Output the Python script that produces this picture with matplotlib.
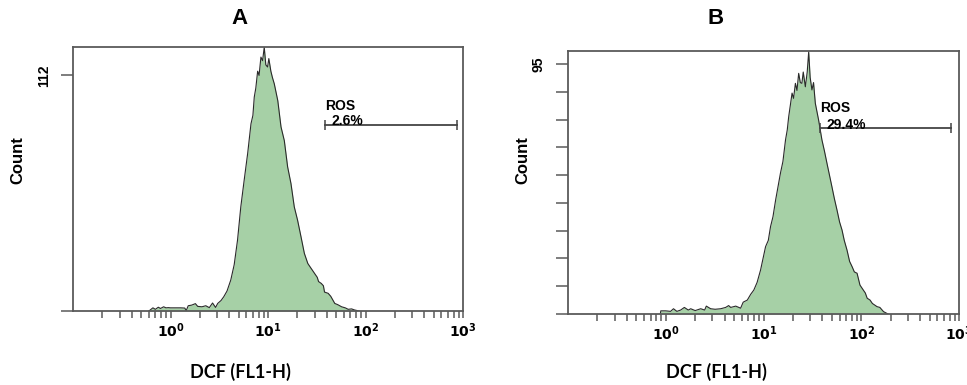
import numpy as np
import matplotlib.pyplot as plt
from matplotlib.ticker import FixedLocator, NullFormatter, FixedFormatter, LogLocator

# DCF fluorescence (FL1-H) channel values and counts
dcf_a = [0.60, 0.62, 0.66, 0.70, 0.75, 0.79, 0.85, 0.90, 0.95, 1.0, 1.1, 1.27, 1.40, 1.45, 1.52,
         1.65, 1.8, 1.9, 2.1, 2.3, 2.5, 2.7, 2.9, 3.05, 3.3, 3.52, 3.8, 4.15, 4.5, 4.87, 5.26,
         5.69, 6.19, 6.69, 7.0, 7.23, 7.5, 7.83, 8.1, 8.46, 8.8, 9.15, 9.5, 9.9, 10.2, 10.7,
         11.1, 11.6, 12.6, 13.6, 14.7, 15.9, 17.2, 18.6, 20.1, 21.8, 23.6, 25.6, 27.0, 30.0,
         32.0, 33.0, 35.2, 37.0, 38.0, 41.4, 44.0, 48.4, 52.0, 56.9, 62.0, 66.5, 72.0, 77.0, 86.0]
count_a = [0, 0.5, 1.5, 0.8, 1.8, 1.2, 2.0, 1.5, 1.6, 1.5, 1.5, 1.5, 1.4, 0.2, 2.5,
           2.8, 3.5, 2.2, 2.0, 2.5, 1.6, 3.8, 1.7, 3.6, 5.0, 6.8, 9.5, 14.7, 22, 33.7, 49.5,
           62, 75, 89, 93, 101.7, 106, 114, 112, 120.7, 119, 125.4, 117, 116, 120, 114,
           111, 108, 100, 87.5, 81, 68.5, 60.6, 49.5, 43.2, 35.3, 27.4, 22.6, 21, 17.9,
           16, 14, 13.1, 12, 9, 8.4, 7, 3.6, 3.0, 2, 1.5, 0.8, 1, 0.5, 0]

dcf_b = [0.88, 0.89, 1.0, 1.12, 1.2, 1.3, 1.42, 1.55, 1.7, 1.8, 2.0, 2.28, 2.5, 2.6, 2.88,
         3.2, 3.65, 4.1, 4.4, 4.62, 5.2, 5.6, 5.83, 6.2, 6.83, 7.4, 7.96, 8.6, 9.33, 10.5,
         11.2, 11.8, 12.5, 13.3, 14.9, 15.8, 16.8, 17.5, 18.1, 19.6, 20.3, 21.2, 22.0, 22.9,
         23.8, 24.7, 25.5, 26.8, 28.0, 29.0, 30.0, 31.3, 32.5, 33.9, 36.6, 39.6, 42.0, 44.6,
         50.1, 53.0, 56.5, 60.0, 63.6, 67.0, 71.5, 76.0, 80.6, 85.0, 90.6, 97.0, 105, 110,
         115, 123, 130, 145, 155, 169, 188]
count_b = [0, 1.2, 1.2, 1.0, 2.0, 1.0, 1.5, 2.5, 1.5, 2.0, 1.3, 2.0, 1.5, 3.0, 2.0,
           1.8, 2.0, 2.5, 3.2, 2.5, 3.0, 2.5, 2.2, 4.5, 5.3, 7.5, 9.1, 12, 16.7, 25.6,
           28, 33.2, 37, 43.3, 53.5, 58, 66.2, 70, 75, 84, 82, 87.7, 85, 91.5,
           88, 87.7, 92, 86.4, 92, 99.7, 90, 85.2, 88, 80.1, 73.8, 66.2, 62, 57.3,
           48.4, 44, 39.5, 35, 31.9, 28, 24.3, 20, 18, 16, 15.5, 11, 9.1, 8,
           6, 5.3, 4, 2.8, 2.5, 0.9, 0]

# gate "ROS": start, end, height
gate_a = (38.7, 867, 88.3)
gate_b = (38.0, 835, 70.7)
pct_a = '2.6%'
pct_b = '29.4%'

ymax_a, ymax_b = 125.5, 100
yticks_a = [0, 112]
yticks_b = [k * 95 / 9 for k in range(10)]
decades = [1, 10, 100, 1000]
decade_labels = [r'$\mathbf{10^{0}}$', r'$\mathbf{10^{1}}$', r'$\mathbf{10^{2}}$', r'$\mathbf{10^{3}}$']

fill_col = '#a6d0a6'
axis_col = '#5a5a5a'

fig = plt.figure(figsize=(9.67, 3.85), dpi=100)
W, H = 967, 385


def panel(box, x, y, ymax, yticks, ylab, gate, pct, ros_dy):
    l, r, b, t = box
    ax = fig.add_axes([l / W, 1 - b / H, (r - l) / W, (b - t) / H])
    ax.fill_between(x, y, 0, color=fill_col, lw=0)
    ax.plot(x, y, color='#2a2a2a', lw=0.8)
    ax.set_xscale('log')
    ax.set_xlim(0.1, 1000)
    ax.set_ylim(0, ymax)
    for s in ax.spines.values():
        s.set_color(axis_col)
        s.set_linewidth(1.3)
    ax.xaxis.set_major_locator(FixedLocator(decades))
    ax.xaxis.set_major_formatter(FixedFormatter(decade_labels))
    ax.xaxis.set_minor_locator(LogLocator(base=10, subs=np.arange(2, 10)))
    ax.xaxis.set_minor_formatter(NullFormatter())
    ax.tick_params(axis='x', which='both', direction='out', length=5, width=1.1,
                   color=axis_col, labelsize=10, pad=2.5)
    ax.yaxis.set_major_locator(FixedLocator(yticks))
    ax.set_yticklabels([''] * (len(yticks) - 1) + [ylab])
    ax.tick_params(axis='y', direction='out', length=9, width=1.1, color=axis_col,
                   labelsize=10, pad=7)
    for lbl in ax.get_yticklabels():
        lbl.set_rotation(90)
        lbl.set_va('center')
        lbl.set_fontweight('bold')
        lbl.set_family('Liberation Sans')
    g0, g1, gy = gate
    ax.plot([g0, g1], [gy, gy], color='#444444', lw=1.3, marker='|', ms=7, mew=1.1)
    ax.text(g0, gy + ros_dy, 'ROS', fontsize=10, fontweight='bold', family='Liberation Sans',
            va='bottom', ha='left')
    ax.text(g0 * 1.17, gy - 1.5, pct, fontsize=10, fontweight='bold', family='Liberation Sans',
            va='bottom', ha='left')
    return ax


panel((73, 463, 311, 47), dcf_a, count_a, ymax_a, yticks_a, '112', gate_a, pct_a, 6)
panel((568, 959, 314, 51), dcf_b, count_b, ymax_b, yticks_b, '95', gate_b, pct_b, 5)

for cx, title in [(240, 'A'), (716, 'B')]:
    fig.text(cx / W, 1 - 18 / H, title, fontsize=16, fontweight='bold',
             family='Liberation Sans', ha='center', va='center')
    fig.text(cx / W, 1 - 372 / H, 'DCF (FL1-H)', fontsize=13, fontweight='bold',
             family='Lato', ha='center', va='center')
for cx in [18, 523]:
    fig.text(cx / W, 1 - 160 / H, 'Count', fontsize=12, fontweight='bold',
             family='Liberation Sans', rotation=90, ha='center', va='center')

fig.savefig('out.png', dpi=100)
